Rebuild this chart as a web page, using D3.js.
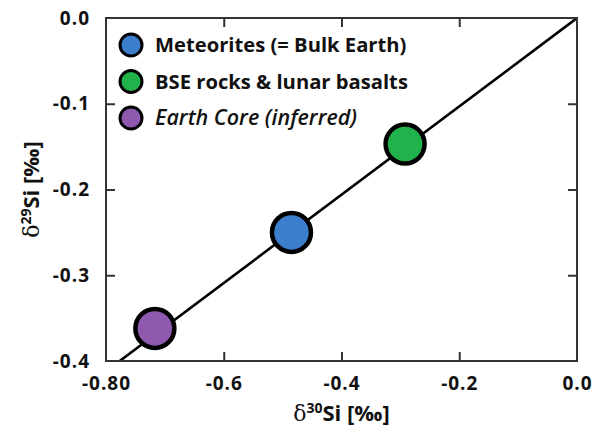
<!DOCTYPE html>
<html>
<head>
<meta charset="utf-8">
<script src="https://cdn.jsdelivr.net/npm/d3@7"></script>
<style>
  body { margin: 0; background: #fff; }
  text { font-family: "Open Sans", sans-serif; }
</style>
</head>
<body>
<svg id="chart" width="600" height="432"></svg>
<script>
// the three sample groups, d30Si vs d29Si (permil)
const groups = ['Meteorites (= Bulk Earth)', 'BSE rocks & lunar basalts', 'Earth Core (inferred)'];
const d30 = [-0.485, -0.292, -0.717];
const d29 = [-0.25, -0.147, -0.362];
const colours = ['#3b7fcc', '#22b24b', '#9059b0'];
const italic = [false, false, true];

// mass-dependent fractionation line through the origin
const lineX = [-0.8, 0.0];
const lineY = [-0.412, 0.0];

const xTicks = [-0.8, -0.6, -0.4, -0.2, 0.0];
const xTickLabels = ['-0.80', '-0.6', '-0.4', '-0.2', '0.0'];
const yTicks = [0.0, -0.1, -0.2, -0.3, -0.4];
const yTickLabels = ['0.0', '-0.1', '-0.2', '-0.3', '-0.4'];

const svg = d3.select('#chart');
const margin = {top: 18, right: 23, bottom: 71, left: 106};
const width = +svg.attr('width');
const height = +svg.attr('height');
const innerWidth = width - margin.left - margin.right;
const innerHeight = height - margin.top - margin.bottom;

const xScale = d3.scaleLinear().domain([-0.8, 0]).range([0, innerWidth]);
const yScale = d3.scaleLinear().domain([-0.4, 0]).range([innerHeight, 0]);

const defs = svg.append('defs');
defs.append('clipPath').attr('id', 'clip')
  .append('rect').attr('width', innerWidth).attr('height', innerHeight);

const g = svg.append('g')
  .attr('transform', `translate(${margin.left},${margin.top})`);

// fractionation line
g.append('path')
  .datum(lineX.map((x, i) => [x, lineY[i]]))
  .attr('clip-path', 'url(#clip)')
  .attr('fill', 'none')
  .attr('stroke', '#000')
  .attr('stroke-width', 2.6)
  .attr('d', d3.line().x(d => xScale(d[0])).y(d => yScale(d[1])));

// axes, ticks pointing inward, mirrored on top and right
const styleAxis = sel => {
  sel.select('.domain').remove();
  sel.selectAll('.tick line').attr('stroke', '#333').attr('stroke-width', 2);
  sel.selectAll('.tick text')
    .attr('fill', '#111')
    .attr('font-size', 19)
    .attr('font-weight', 700)
    .attr('letter-spacing', 1);
};
const noLabels = sel => sel.selectAll('.tick text').remove();

g.append('g')
  .attr('transform', `translate(0,${innerHeight})`)
  .call(d3.axisBottom(xScale).tickValues(xTicks)
    .tickFormat((d, i) => xTickLabels[i]).tickSize(-9).tickPadding(16))
  .call(styleAxis)
  .call(a => a.selectAll('.tick line').filter(d => d === -0.8 || d === 0).remove());

g.append('g')
  .call(d3.axisTop(xScale).tickValues([-0.6, -0.4, -0.2]).tickSize(-9))
  .call(styleAxis)
  .call(noLabels);

g.append('g')
  .call(d3.axisLeft(yScale).tickValues(yTicks)
    .tickFormat((d, i) => yTickLabels[i]).tickSize(-9).tickPadding(16))
  .call(styleAxis)
  .call(a => a.selectAll('.tick line').filter(d => d === -0.4 || d === 0).remove());

g.append('g')
  .attr('transform', `translate(${innerWidth},0)`)
  .call(d3.axisRight(yScale).tickValues([-0.1, -0.2, -0.3]).tickSize(-9))
  .call(styleAxis)
  .call(noLabels);

g.append('rect')
  .attr('width', innerWidth)
  .attr('height', innerHeight)
  .attr('fill', 'none')
  .attr('stroke', '#333')
  .attr('stroke-width', 2);

// data points
g.selectAll('circle.pt')
  .data(groups)
  .join('circle')
  .attr('class', 'pt')
  .attr('cx', (d, i) => xScale(d30[i]))
  .attr('cy', (d, i) => yScale(d29[i]))
  .attr('r', 19.5)
  .attr('fill', (d, i) => colours[i])
  .attr('stroke', '#000')
  .attr('stroke-width', 4.5);

// legend
const legend = g.append('g').attr('transform', 'translate(25,27)');
const rows = legend.selectAll('g')
  .data(groups)
  .join('g')
  .attr('transform', (d, i) => `translate(0,${i * 36.5})`);
rows.append('circle')
  .attr('r', 11)
  .attr('fill', (d, i) => colours[i])
  .attr('stroke', '#000')
  .attr('stroke-width', 3);
rows.append('text')
  .attr('x', 24)
  .attr('y', 7)
  .attr('font-size', (d, i) => italic[i] ? 21.5 : 20.2)
  .attr('font-weight', (d, i) => italic[i] ? 600 : 700)
  .attr('font-style', (d, i) => italic[i] ? 'italic' : 'normal')
  .attr('fill', '#111')
  .text(d => d);

// axis titles
const xTitle = svg.append('text')
  .attr('x', margin.left + innerWidth / 2)
  .attr('y', 421)
  .attr('text-anchor', 'middle')
  .attr('font-size', 22)
  .attr('fill', '#111');
xTitle.append('tspan').attr('font-family', 'DejaVu Serif').attr('font-weight', 400).text('δ');
xTitle.append('tspan').attr('font-size', 14).attr('dy', -8).attr('font-weight', 700).text('30');
xTitle.append('tspan').attr('dy', 8).attr('font-weight', 700).text('Si [‰]');

const yTitle = svg.append('text')
  .attr('transform', `translate(39,${margin.top + innerHeight / 2}) rotate(-90)`)
  .attr('text-anchor', 'middle')
  .attr('font-size', 22)
  .attr('fill', '#111');
yTitle.append('tspan').attr('font-family', 'DejaVu Serif').attr('font-weight', 400).text('δ');
yTitle.append('tspan').attr('font-size', 14).attr('dy', -8).attr('font-weight', 700).text('29');
yTitle.append('tspan').attr('dy', 8).attr('font-weight', 700).text('Si [‰]');
</script>
</body>
</html>
